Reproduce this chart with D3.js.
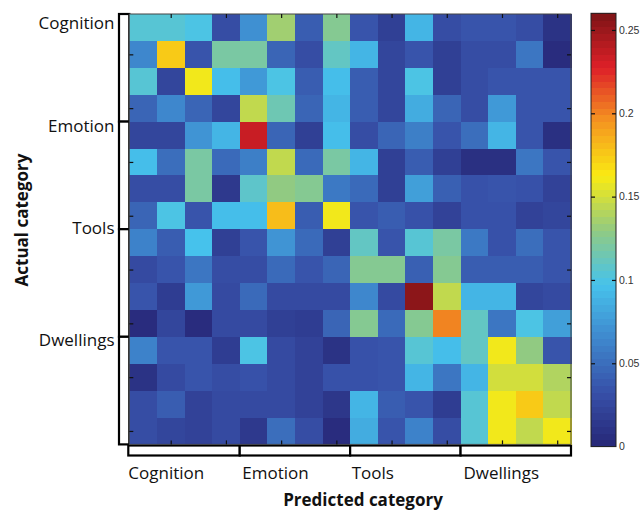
<!DOCTYPE html>
<html>
<head>
<meta charset="utf-8">
<script src="https://cdn.jsdelivr.net/npm/d3@7/dist/d3.min.js"></script>
<style>
  html, body { margin: 0; padding: 0; background: #fff; }
  svg { display: block; }
</style>
</head>
<body>
<svg id="chart" width="644" height="511"></svg>
<script>
// Category groups; each group holds four items on both axes
const categories = ["Cognition", "Emotion", "Tools", "Dwellings"];
const itemsPerCategory = 4;

// Proportion of trials: rows = actual item, columns = predicted item
const cognitionRows = [
  [0.105, 0.105, 0.100, 0.030, 0.070, 0.135, 0.040, 0.125, 0.035, 0.020, 0.090, 0.030, 0.035, 0.035, 0.030, 0.010],
  [0.065, 0.175, 0.035, 0.120, 0.120, 0.045, 0.030, 0.110, 0.090, 0.025, 0.035, 0.020, 0.030, 0.030, 0.055, 0.005],
  [0.105, 0.025, 0.160, 0.095, 0.075, 0.100, 0.040, 0.095, 0.040, 0.025, 0.100, 0.020, 0.030, 0.035, 0.035, 0.035],
  [0.045, 0.065, 0.045, 0.025, 0.145, 0.115, 0.045, 0.090, 0.040, 0.025, 0.085, 0.045, 0.030, 0.075, 0.035, 0.035]
];
const emotionRows = [
  [0.025, 0.025, 0.072, 0.090, 0.235, 0.045, 0.020, 0.095, 0.030, 0.045, 0.060, 0.035, 0.050, 0.090, 0.035, 0.008],
  [0.095, 0.050, 0.120, 0.048, 0.060, 0.145, 0.048, 0.120, 0.090, 0.020, 0.040, 0.020, 0.008, 0.008, 0.055, 0.035],
  [0.030, 0.030, 0.120, 0.015, 0.108, 0.130, 0.125, 0.057, 0.048, 0.020, 0.078, 0.042, 0.033, 0.035, 0.033, 0.022],
  [0.045, 0.100, 0.035, 0.095, 0.095, 0.180, 0.040, 0.160, 0.035, 0.040, 0.033, 0.022, 0.033, 0.033, 0.022, 0.025]
];
const toolsRows = [
  [0.062, 0.040, 0.097, 0.020, 0.035, 0.072, 0.048, 0.020, 0.110, 0.035, 0.105, 0.120, 0.057, 0.033, 0.050, 0.035],
  [0.028, 0.035, 0.055, 0.030, 0.030, 0.048, 0.035, 0.045, 0.125, 0.125, 0.042, 0.125, 0.040, 0.040, 0.040, 0.035],
  [0.035, 0.018, 0.075, 0.028, 0.048, 0.028, 0.028, 0.028, 0.065, 0.028, 0.255, 0.145, 0.090, 0.090, 0.025, 0.028],
  [0.005, 0.025, 0.005, 0.028, 0.028, 0.020, 0.018, 0.045, 0.125, 0.048, 0.125, 0.200, 0.110, 0.055, 0.100, 0.078]
];
const dwellingsRows = [
  [0.062, 0.035, 0.035, 0.018, 0.100, 0.028, 0.022, 0.010, 0.033, 0.035, 0.105, 0.095, 0.110, 0.160, 0.130, 0.035],
  [0.010, 0.028, 0.035, 0.030, 0.033, 0.028, 0.022, 0.033, 0.033, 0.035, 0.090, 0.055, 0.090, 0.150, 0.150, 0.140],
  [0.030, 0.040, 0.022, 0.028, 0.028, 0.028, 0.022, 0.013, 0.090, 0.040, 0.035, 0.018, 0.105, 0.160, 0.175, 0.145],
  [0.030, 0.025, 0.022, 0.028, 0.015, 0.050, 0.030, 0.005, 0.085, 0.035, 0.062, 0.030, 0.105, 0.160, 0.145, 0.160]
];

// Colour limits and colorbar tick labels
const colorMax = 0.26;
const colorbarTicks = [0, 0.05, 0.1, 0.15, 0.2, 0.25];
// Item indices (1-based) that carry tick marks on the matrix frame
const matrixTicks = [2, 4, 6, 8, 10, 12, 14, 16];

const matrix = [...cognitionRows, ...emotionRows, ...toolsRows, ...dwellingsRows];
const n = matrix.length;
const cells = matrix.flatMap((row, r) => row.map((v, c) => ({ r, c, v })));

// ---- layout ----
const plot = { x0: 129.3, x1: 571, y0: 14, y1: 444.4 };
const bar = { x0: 591, x1: 616, y0: 13.3, y1: 446.6 };
const font = "'Open Sans', 'DejaVu Sans', sans-serif";

const svg = d3.select("#chart");
svg.append("rect").attr("width", 644).attr("height", 511).attr("fill", "#fff");

const xBand = d3.scaleBand().domain(d3.range(n)).range([plot.x0, plot.x1]).padding(0);
const yBand = d3.scaleBand().domain(d3.range(n)).range([plot.y0, plot.y1]).padding(0);
// continuous item coordinates (1-based, cell centres on integers)
const xIdx = d3.scaleLinear().domain([0.5, n + 0.5]).range([plot.x0, plot.x1]);
const yIdx = d3.scaleLinear().domain([0.5, n + 0.5]).range([plot.y0, plot.y1]);

// jet-like palette
const color = d3.scaleLinear()
  .domain([0, 0.0325, 0.065, 0.0975, 0.13, 0.1625, 0.195, 0.2275, 0.26])
  .range(["rgb(38,38,118)", "rgb(55,80,168)", "rgb(62,135,205)", "rgb(70,195,236)",
          "rgb(145,202,130)", "rgb(250,235,18)", "rgb(245,150,32)", "rgb(222,32,40)", "rgb(125,20,22)"])
  .interpolate(d3.interpolateRgb)
  .clamp(true);

// ---- group brackets ----
const groupSpan = itemsPerCategory;
const brackets = svg.append("g").attr("fill", "#fff").attr("stroke", "#000").attr("stroke-width", 2.2);
categories.forEach((cat, i) => {
  brackets.append("rect")
    .attr("x", 119)
    .attr("y", yIdx(i * groupSpan + 0.5))
    .attr("width", plot.x0 - 119)
    .attr("height", yIdx((i + 1) * groupSpan + 0.5) - yIdx(i * groupSpan + 0.5));
  brackets.append("rect")
    .attr("x", xIdx(i * groupSpan + 0.5) - (i === 0 ? 1 : 0))
    .attr("y", 445.5)
    .attr("width", xIdx((i + 1) * groupSpan + 0.5) - xIdx(i * groupSpan + 0.5) + (i === 0 ? 1 : 0))
    .attr("height", 10);
});

// ---- cells ----
svg.append("g")
  .attr("shape-rendering", "crispEdges")
  .selectAll("rect")
  .data(cells)
  .join("rect")
  .attr("x", d => xBand(d.c))
  .attr("y", d => yBand(d.r))
  .attr("width", xBand.bandwidth() + 0.5)
  .attr("height", yBand.bandwidth() + 0.5)
  .attr("fill", d => color(d.v));

// frame
svg.append("rect")
  .attr("x", plot.x0).attr("y", plot.y0)
  .attr("width", plot.x1 - plot.x0).attr("height", plot.y1 - plot.y0)
  .attr("fill", "none").attr("stroke", "#444").attr("stroke-width", 1);

// inward ticks on all four sides
function tickAxis(axis, tx, ty) {
  const g = svg.append("g").attr("transform", `translate(${tx},${ty})`)
    .call(axis.tickValues(matrixTicks).tickSize(4).tickFormat(""));
  g.select(".domain").remove();
  g.selectAll(".tick line").attr("stroke", "#111").attr("stroke-width", 1.2);
}
tickAxis(d3.axisBottom(xIdx), 0, plot.y0);
tickAxis(d3.axisTop(xIdx), 0, plot.y1);
tickAxis(d3.axisRight(yIdx), plot.x0, 0);
tickAxis(d3.axisLeft(yIdx), plot.x1, 0);

// ---- category labels ----
const leftNudge = [9, 4.5, -1.5, 3];
svg.append("g")
  .attr("font-family", font).attr("font-size", 17).attr("fill", "#111")
  .attr("text-anchor", "end")
  .selectAll("text").data(categories).join("text")
  .attr("x", 114.5)
  .attr("y", (d, i) => yIdx(i * groupSpan + 0.5) + leftNudge[i] + 6)
  .text(d => d);

const bottomNudge = [-1, 2.6, 1.6, 2.8];
svg.append("g")
  .attr("font-family", font).attr("font-size", 17).attr("fill", "#111")
  .attr("text-anchor", "start")
  .selectAll("text").data(categories).join("text")
  .attr("x", (d, i) => xIdx(i * groupSpan + 0.5) + bottomNudge[i])
  .attr("y", 479)
  .text(d => d);

// axis titles
svg.append("text")
  .attr("font-family", font).attr("font-size", 17).attr("font-weight", 700).attr("fill", "#111")
  .attr("text-anchor", "middle")
  .attr("x", 363).attr("y", 506)
  .text("Predicted category");

svg.append("text")
  .attr("font-family", font).attr("font-size", 17).attr("font-weight", 700).attr("fill", "#111")
  .attr("text-anchor", "middle")
  .attr("transform", "translate(28,220) rotate(-90)")
  .text("Actual category");

// ---- colorbar ----
const cScale = d3.scaleLinear().domain([0, colorMax]).range([bar.y1, bar.y0]);
const levels = 64;
const bands = d3.range(levels).map(i => ({
  lo: (i / levels) * colorMax,
  hi: ((i + 1) / levels) * colorMax,
  mid: ((i + 0.5) / levels) * colorMax
}));
svg.append("g")
  .attr("shape-rendering", "crispEdges")
  .selectAll("rect").data(bands).join("rect")
  .attr("x", bar.x0)
  .attr("y", d => cScale(d.hi))
  .attr("width", bar.x1 - bar.x0)
  .attr("height", d => cScale(d.lo) - cScale(d.hi) + 0.6)
  .attr("fill", d => color(d.mid));

svg.append("rect")
  .attr("x", bar.x0).attr("y", bar.y0)
  .attr("width", bar.x1 - bar.x0).attr("height", bar.y1 - bar.y0)
  .attr("fill", "none").attr("stroke", "#222").attr("stroke-width", 1);

const cbRight = svg.append("g").attr("transform", `translate(${bar.x1},0)`)
  .call(d3.axisRight(cScale).tickValues(colorbarTicks).tickSizeInner(-4).tickSizeOuter(0)
    .tickPadding(3).tickFormat(d3.format("")));
cbRight.select(".domain").remove();
cbRight.selectAll(".tick line").attr("stroke", "#111").attr("stroke-width", 1.2)
  .filter(d => d === 0).remove();
cbRight.selectAll(".tick text")
  .attr("font-family", "'Liberation Sans', Arial, sans-serif")
  .attr("font-size", 10.5).attr("fill", "#333");

const cbLeft = svg.append("g").attr("transform", `translate(${bar.x0},0)`)
  .call(d3.axisLeft(cScale).tickValues(colorbarTicks.filter(t => t > 0))
    .tickSizeInner(-4).tickSizeOuter(0).tickFormat(""));
cbLeft.select(".domain").remove();
cbLeft.selectAll(".tick line").attr("stroke", "#111").attr("stroke-width", 1.2);
</script>
</body>
</html>
